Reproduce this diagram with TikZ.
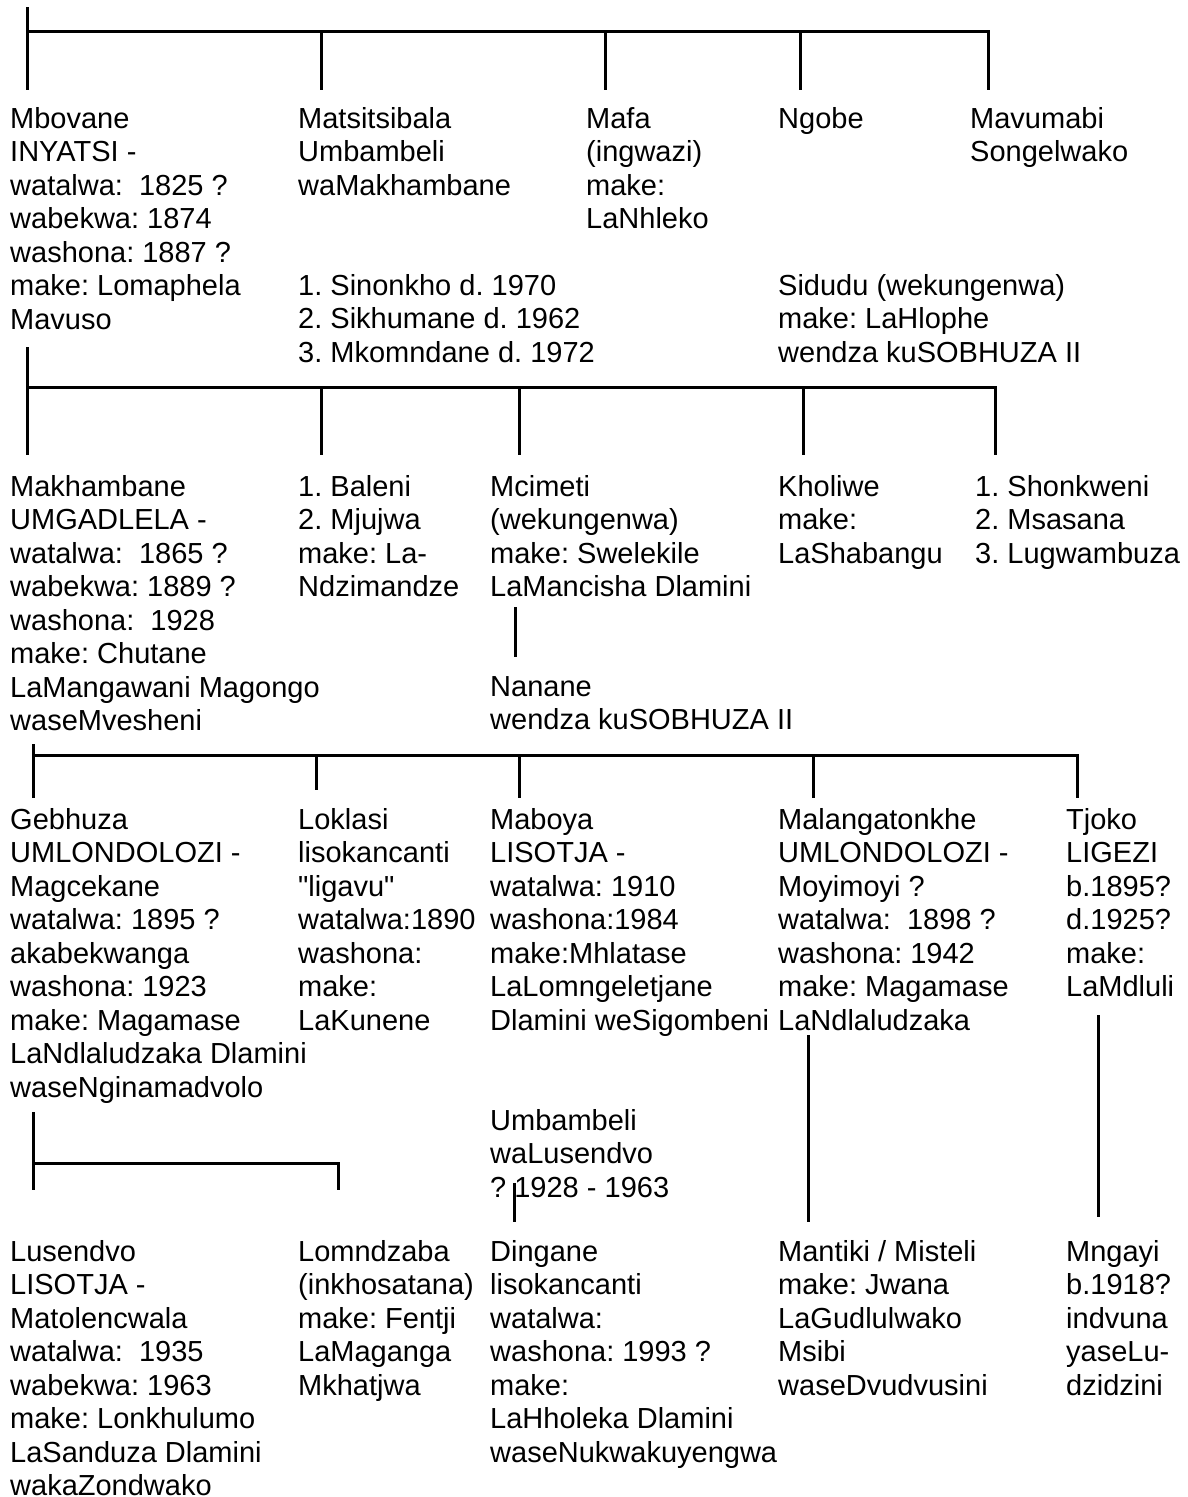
\documentclass[tikz,border=0pt]{standalone}
\usepackage{fontspec}
\setmainfont{Liberation Sans}[Ligatures=TeXOff]
\frenchspacing
\begin{document}
\begin{tikzpicture}[x=1pt,y=-1pt,
  txt/.style={anchor=north west,inner sep=0pt,align=left,
    font=\fontsize{29}{33.5}\selectfont\frenchspacing,execute at begin node=\strut},
  ln/.style={line width=3pt}]
\useasboundingbox (0,0) rectangle (1187,1497);

% ---------- generation 1 ----------
\node[txt] (mbovane) at (10,107) {Mbovane\\INYATSI -\\watalwa:\ \ 1825 ?\\wabekwa: 1874\\washona: 1887 ?\\make: Lomaphela\\Mavuso};
\node[txt] (matsitsibala) at (298,107) {Matsitsibala\\Umbambeli\\waMakhambane};
\node[txt] (wives) at (298,274) {1. Sinonkho d. 1970\\2. Sikhumane d. 1962\\3. Mkomndane d. 1972};
\node[txt] (mafa) at (586,107) {Mafa\\(ingwazi)\\make:\\LaNhleko};
\node[txt] (ngobe) at (778,105) {Ngobe};
\node[txt] (sidudu) at (778,274) {Sidudu (wekungenwa)\\make: LaHlophe\\wendza kuSOBHUZA II};
\node[txt] (mavumabi) at (970,107) {Mavumabi\\Songelwako};

\coordinate (g1top) at (27,7);
\coordinate (g1l) at (27,31);
\coordinate (g1r) at (988,31);
\draw[ln] (g1top) -- (27,90);
\draw[ln] (g1l) -- (g1r) -- (988,90);
\foreach \x in {321,605,800} \draw[ln] (\x,31) -- (\x,90);

% ---------- generation 2 ----------
\node[txt] (makhambane) at (10,475) {Makhambane\\UMGADLELA -\\watalwa:\ \ 1865 ?\\wabekwa: 1889 ?\\washona:\ \ 1928\\make: Chutane\\LaMangawani Magongo\\waseMvesheni};
\node[txt] (baleni) at (298,475) {1. Baleni\\2. Mjujwa\\make: La-\\Ndzimandze};
\node[txt] (mcimeti) at (490,475) {Mcimeti\\(wekungenwa)\\make: Swelekile\\LaMancisha Dlamini};
\node[txt] (nanane) at (490,676) {Nanane\\wendza kuSOBHUZA II};
\node[txt] (kholiwe) at (778,475) {Kholiwe\\make:\\LaShabangu};
\node[txt] (shonkweni) at (975,475) {1. Shonkweni\\2. Msasana\\3. Lugwambuza};

\coordinate (g2top) at (27,347);
\coordinate (g2l) at (27,387);
\coordinate (g2r) at (995,387);
\draw[ln] (g2top) -- (27,455);
\draw[ln] (g2l) -- (g2r) -- (995,455);
\foreach \x in {321,519,803} \draw[ln] (\x,387) -- (\x,455);
\draw[ln] (515,607) -- (515,657);

% ---------- generation 3 ----------
\node[txt] (gebhuza) at (10,808) {Gebhuza\\UMLONDOLOZI -\\Magcekane\\watalwa: 1895 ?\\akabekwanga\\washona: 1923\\make: Magamase\\LaNdlaludzaka Dlamini\\waseNginamadvolo};
\node[txt] (loklasi) at (298,808) {Loklasi\\lisokancanti\\"ligavu"\\watalwa:1890\\washona:\\make:\\LaKunene};
\node[txt] (maboya) at (490,808) {Maboya\\LISOTJA -\\watalwa: 1910\\washona:1984\\make:Mhlatase\\LaLomngeletjane\\Dlamini weSigombeni};
\node[txt] (umbambeli) at (490,1109) {Umbambeli\\waLusendvo\\? 1928 - 1963};
\node[txt] (malangatonkhe) at (778,808) {Malangatonkhe\\UMLONDOLOZI -\\Moyimoyi ?\\watalwa:\ \ 1898 ?\\washona: 1942\\make: Magamase\\LaNdlaludzaka};
\node[txt] (tjoko) at (1066,808) {Tjoko\\LIGEZI\\b.1895?\\d.1925?\\make:\\LaMdluli};

\coordinate (g3top) at (33,744);
\coordinate (g3l) at (33,755);
\coordinate (g3r) at (1077,755);
\draw[ln] (g3top) -- (33,798);
\draw[ln] (g3l) -- (g3r) -- (1077,798);
\draw[ln] (316,755) -- (316,790);
\foreach \x in {519,813} \draw[ln] (\x,755) -- (\x,798);

% ---------- generation 4 ----------
\node[txt] (lusendvo) at (10,1240) {Lusendvo\\LISOTJA -\\Matolencwala\\watalwa:\ \ 1935\\wabekwa: 1963\\make: Lonkhulumo\\LaSanduza Dlamini\\wakaZondwako};
\node[txt] (lomndzaba) at (298,1240) {Lomndzaba\\(inkhosatana)\\make: Fentji\\LaMaganga\\Mkhatjwa};
\node[txt] (dingane) at (490,1240) {Dingane\\lisokancanti\\watalwa:\\washona: 1993 ?\\make:\\LaHholeka Dlamini\\waseNukwakuyengwa};
\node[txt] (mantiki) at (778,1240) {Mantiki / Misteli\\make: Jwana\\LaGudlulwako\\Msibi\\waseDvudvusini};
\node[txt] (mngayi) at (1066,1240) {Mngayi\\b.1918?\\indvuna\\yaseLu-\\dzidzini};

\coordinate (g4top) at (33,1112);
\coordinate (g4l) at (33,1163);
\coordinate (g4r) at (338,1163);
\draw[ln] (g4top) -- (33,1190);
\draw[ln] (g4l) -- (g4r) -- (338,1190);
\draw[ln] (514,1183) -- (514,1222);
\draw[ln] (808,1035) -- (808,1222);
\draw[ln] (1098,1015) -- (1098,1217);
\end{tikzpicture}
\end{document}
